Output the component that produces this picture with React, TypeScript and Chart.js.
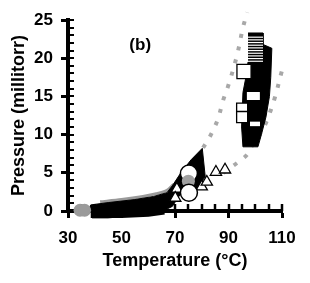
import React, { useEffect, useRef } from 'react';
import { Chart, registerables } from 'chart.js';

Chart.register(...registerables);

// ---- data ----
const xTickValues = [30, 50, 70, 90, 110];
const yTickValues = [0, 5, 10, 15, 20, 25];
const xMinorStep = 5;
const yMinorStep = 1;

const panelLabel = '(b)';
const panelLabelPos = { x: 57, y: 21.7 };

// dense black band of filled markers (low temperature part), outline
const lowBand = [
  [37.5, 0], [38.5, 0.8], [45, 1.1], [55, 1.5], [62, 1.9], [67, 2.4], [69, 3.3],
  [72, 4.9], [76, 6.7], [80.2, 8.2], [81.3, 4.5], [78, 2.8], [72, 2.2], [69, 0.6],
  [66, 0.1], [55, -0.6], [45, -0.9], [39, -0.9],
];
// part of the low band lying under the x axis
const lowBandBase = [[38.5, -0.45], [50, -0.45], [60, -0.3], [66, 0]];
// dense black cluster (high temperature part), outline
const highBand = [
  [97.3, 23.3], [102.9, 23.3], [102.9, 21.8], [106.2, 21.3], [105.8, 17.5],
  [105.3, 15], [104, 12.3], [102.3, 10], [101, 8.4], [95.4, 8.4], [94.9, 11],
  [95.4, 15.5], [96.5, 17.5], [97.3, 19.5],
];
// gray markers along top of the low band
const grayBand = [[42, 1.2], [50, 1.5], [58, 1.9], [63, 2.25], [67, 2.7], [69.5, 3.5]];
const grayLow = [[34.5, 0.1], [36.2, 0.1]];
// model curves (dotted)
const leftCurve = [
  [78, 6.8], [80, 8], [83, 9.7], [86, 12.0], [88, 14.5], [90, 16.5], [93.2, 20.4], [95.4, 24], [97, 26],
];
const rightCurve = [
  [88, 5.0], [93.6, 6.4], [97, 7.4], [99.3, 8.9], [102, 10.2], [104.3, 11.8], [107.3, 14.8], [110, 18.4], [112, 20.7],
];
// striped open squares (white lines on black)
const stripes = [19.6, 19.95, 20.3, 20.65, 21.0, 21.35, 21.7, 22.05, 22.4, 22.75];
const stripeX = 100.1;
// open squares
const openSquaresBig = [[95.8, 18.26]];
const openSquaresSmall = [[95.1, 13.4], [95.1, 12.3]];
const whiteBarWide = [[99.3, 15.05]];
const whiteBarSmall = [[99.9, 11.4]];
// open triangles
const triangles = [[70.7, 2.9], [70.1, 1.7], [80, 3.2], [81.9, 3.8], [85.3, 5.1], [88.7, 5.4]];
// open circles
const circleTop = [[75.2, 4.9]];
const circleGray = [[75.0, 3.9]];
const circleBottom = [[75.2, 2.4]];

const pts = (arr: number[][]) => arr.map(([x, y]) => ({ x, y }));

const FONT = '"Liberation Sans", Arial, sans-serif';

const innerTicks = {
  id: 'innerTicks',
  beforeDatasetsDraw(chart: any) {
    const { ctx, scales } = chart;
    const x = scales.x;
    const y = scales.y;
    const y0 = y.getPixelForValue(y.min);
    const x0 = x.getPixelForValue(x.min);
    ctx.save();
    ctx.strokeStyle = '#000';
    ctx.lineWidth = 2.5;
    for (let v = x.min + xMinorStep; v <= x.max + 1e-6; v += xMinorStep) {
      const px = Math.round(x.getPixelForValue(v));
      ctx.beginPath();
      ctx.moveTo(px, y0);
      ctx.lineTo(px, y0 - 7);
      ctx.stroke();
    }
    ctx.lineWidth = 2;
    for (let v = y.min + yMinorStep; v <= y.max + 1e-6; v += yMinorStep) {
      const py = Math.round(y.getPixelForValue(v));
      ctx.beginPath();
      ctx.moveTo(x0, py);
      ctx.lineTo(x0 + 6, py);
      ctx.stroke();
    }
    ctx.restore();
  },
  afterDatasetsDraw(chart: any) {
    const { ctx, scales } = chart;
    ctx.save();
    ctx.fillStyle = '#000';
    ctx.font = `bold 17px ${FONT}`;
    ctx.textAlign = 'center';
    ctx.textBaseline = 'middle';
    ctx.fillText(panelLabel, scales.x.getPixelForValue(panelLabelPos.x), scales.y.getPixelForValue(panelLabelPos.y));
    ctx.restore();
  },
};

export default function App() {
  const ref = useRef<HTMLCanvasElement | null>(null);
  useEffect(() => {
    if (!ref.current) return;
    const white = '#ffffff';
    const chart = new Chart(ref.current, {
      type: 'scatter',
      data: {
        datasets: [
          { data: pts(circleBottom), pointStyle: 'circle', radius: 8.5, backgroundColor: white, borderColor: '#000', borderWidth: 1.5, order: 1, clip: false } as any,
          { data: pts(circleGray), pointStyle: 'circle', radius: 6.5, backgroundColor: '#a0a0a0', borderColor: '#a0a0a0', borderWidth: 0, order: 2, clip: false },
          { data: pts(circleTop), pointStyle: 'circle', radius: 8.5, backgroundColor: white, borderColor: '#000', borderWidth: 1.5, order: 3, clip: false },
          { data: pts(triangles), pointStyle: 'triangle', radius: 6.5, backgroundColor: white, borderColor: '#000', borderWidth: 1.3, order: 4, clip: false },
          { data: pts(whiteBarSmall), pointStyle: 'line', radius: 5, borderColor: white, borderWidth: 4.5, order: 5, clip: false },
          { data: pts(whiteBarWide), pointStyle: 'line', radius: 6.5, borderColor: white, borderWidth: 8, order: 5, clip: false },
          { data: pts(openSquaresSmall), pointStyle: 'rect', radius: 7.8, backgroundColor: white, borderColor: '#000', borderWidth: 1.3, order: 6, clip: false },
          { data: pts(openSquaresBig), pointStyle: 'rect', radius: 10, backgroundColor: white, borderColor: '#000', borderWidth: 1.3, order: 6, clip: false },
          { data: stripes.map((y) => ({ x: stripeX, y })), pointStyle: 'line', radius: 7.5, borderColor: white, borderWidth: 1.2, order: 7, clip: false },
          { data: pts(grayLow), pointStyle: 'circle', radius: 6.5, backgroundColor: '#9a9a9a', borderColor: '#9a9a9a', borderWidth: 0, order: 8, clip: false },
          { type: 'line', data: pts(highBand), fill: 'shape', backgroundColor: '#000', borderColor: '#000', borderWidth: 1, pointRadius: 0, order: 9, clip: false } as any,
          { type: 'line', data: pts(lowBandBase), fill: false, borderColor: '#000', borderWidth: 7, pointRadius: 0, order: 10, clip: false } as any,
          { type: 'line', data: pts(lowBand), fill: 'shape', backgroundColor: '#000', borderColor: '#000', borderWidth: 1, pointRadius: 0, order: 10, clip: false } as any,
          { type: 'line', data: pts(grayBand), fill: false, borderColor: '#9a9a9a', borderWidth: 3, pointRadius: 0, tension: 0.3, order: 11, clip: false } as any,
          { type: 'line', data: pts(leftCurve), fill: false, borderColor: '#a8a8a8', borderWidth: 4, borderDash: [4, 9], pointRadius: 0, tension: 0.35, order: 12, clip: false } as any,
          { type: 'line', data: pts(rightCurve), fill: false, borderColor: '#a8a8a8', borderWidth: 4, borderDash: [4, 9], pointRadius: 0, tension: 0.35, order: 12, clip: false } as any,
        ],
      },
      options: {
        animation: false,
        responsive: false,
        devicePixelRatio: 1,
        layout: { padding: { top: 20, right: 28, left: 0, bottom: 0 } },
        plugins: { legend: { display: false }, tooltip: { enabled: false } },
        scales: {
          x: {
            type: 'linear',
            min: 30,
            max: 110,
            afterBuildTicks: (s: any) => { s.ticks = xTickValues.map((value) => ({ value })); },
            afterFit: (s: any) => { s.height = 72; },
            ticks: { color: '#000', font: { family: FONT, size: 17, weight: 'bold' }, padding: 10, maxRotation: 0, autoSkip: false },
            grid: { drawOnChartArea: false, drawTicks: true, tickLength: 7, tickWidth: 3, tickColor: '#000' },
            border: { display: true, width: 4, color: '#000' },
            title: { display: true, text: 'Temperature (°C)', color: '#000', font: { family: FONT, size: 18, weight: 'bold' }, padding: { top: 0, bottom: 11 } },
          },
          y: {
            type: 'linear',
            min: 0,
            max: 25,
            afterBuildTicks: (s: any) => { s.ticks = yTickValues.map((value) => ({ value })); },
            afterFit: (s: any) => { s.width = 68; },
            ticks: { color: '#000', font: { family: FONT, size: 17, weight: 'bold' }, padding: 8 },
            grid: { drawOnChartArea: false, drawTicks: true, tickLength: 7, tickWidth: 3, tickColor: '#000' },
            border: { display: true, width: 4, color: '#000' },
            title: { display: true, text: 'Pressure (millitorr)', color: '#000', font: { family: FONT, size: 18, weight: 'bold' }, padding: { top: 8, bottom: 0 } },
          },
        },
      } as any,
      plugins: [innerTicks],
    });
    return () => chart.destroy();
  }, []);
  return (
    <div style={{ position: 'fixed', left: 0, top: 0, width: 310, height: 283, background: '#fff' }}>
      <canvas ref={ref} width={310} height={283} style={{ display: 'block', width: 310, height: 283 }} />
    </div>
  );
}
